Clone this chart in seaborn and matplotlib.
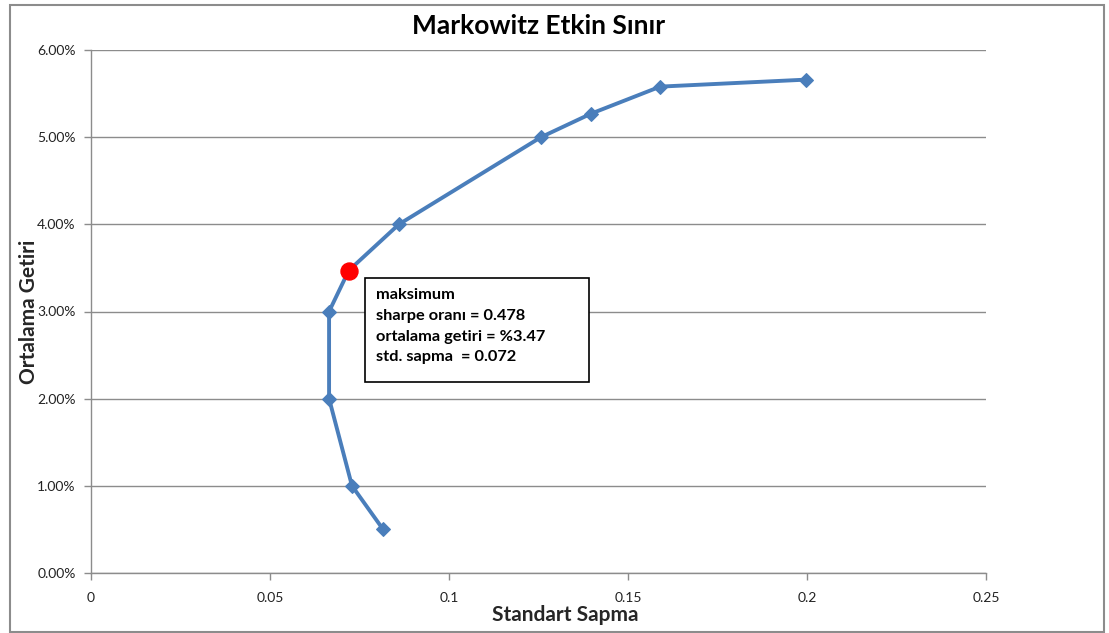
import matplotlib
matplotlib.use("Agg")
import matplotlib.pyplot as plt
import matplotlib.patches as mpatches
from matplotlib.ticker import PercentFormatter, FixedLocator
import seaborn as sns
import pandas as pd

# Efficient frontier portfolios (standard deviation, mean return)
std_dev = [0.0816, 0.0729, 0.0665, 0.0665, 0.072, 0.0860, 0.1257, 0.1397, 0.1590, 0.1997]
mean_ret = [0.0050, 0.0100, 0.0200, 0.0300, 0.0347, 0.0400, 0.0500, 0.0527, 0.0558, 0.0566]

# Maximum Sharpe ratio portfolio
max_sharpe = 0.478
max_ret = 0.0347
max_std = 0.072

x_ticks = [0, 0.05, 0.1, 0.15, 0.2, 0.25]
x_tick_labels = ["0", "0.05", "0.1", "0.15", "0.2", "0.25"]
y_ticks = [0.0, 0.01, 0.02, 0.03, 0.04, 0.05, 0.06]

sns.set_theme(style="white")
plt.rcParams["font.family"] = ["Lato", "DejaVu Sans"]

W, H = 1109, 633
fig = plt.figure(figsize=(W / 100, H / 100), dpi=100)
ax = fig.add_axes([91 / W, (H - 573) / H, (986 - 91) / W, (573 - 50) / H])

df = pd.DataFrame({"std": std_dev, "ret": mean_ret})
line_color = "#4A7EBB"
sns.lineplot(data=df, x="std", y="ret", sort=False, estimator=None, ax=ax,
             color=line_color, linewidth=2.8, marker="D", markersize=7.5,
             markeredgecolor=line_color, markerfacecolor=line_color, zorder=3)

pt = pd.DataFrame({"std": [max_std], "ret": [max_ret]})
sns.scatterplot(data=pt, x="std", y="ret", ax=ax, color="red", s=150,
                edgecolor="red", zorder=5)

ax.set_xlim(0, 0.25)
ax.set_ylim(0, 0.06)
ax.xaxis.set_major_locator(FixedLocator(x_ticks))
ax.set_xticklabels(x_tick_labels)
ax.yaxis.set_major_locator(FixedLocator(y_ticks))
ax.yaxis.set_major_formatter(PercentFormatter(1, decimals=2))

grid_color = "#8C8C8C"
ax.grid(axis="y", color=grid_color, linewidth=1.0)
ax.grid(axis="x", visible=False)
for side in ["top", "right"]:
    ax.spines[side].set_visible(False)
for side in ["left", "bottom"]:
    ax.spines[side].set_color(grid_color)
    ax.spines[side].set_linewidth(1.0)
ax.tick_params(axis="both", which="major", direction="out", length=5,
               width=1.0, color=grid_color, labelsize=10, labelcolor="#222222",
               left=True, bottom=True)
ax.tick_params(axis="y", pad=6)
ax.tick_params(axis="x", pad=9)

ax.set_xlabel("Standart Sapma", fontsize=15, fontweight="bold")
ax.xaxis.set_label_coords((565 - 91) / (986 - 91), -0.062)
ax.set_ylabel("Ortalama Getiri", fontsize=15, fontweight="bold")
ax.yaxis.set_label_coords(-0.058, 0.5)

fig.text(539 / W, 1 - 26 / H, "Markowitz Etkin Sınır", ha="center", va="center",
         fontsize=19, fontweight="bold", color="black")

info = ("maksimum\n"
        f"sharpe oranı = {max_sharpe:.3f}\n"
        f"ortalama getiri = %{max_ret * 100:.2f}\n"
        f"std. sapma  = {max_std:.3f}")
box = mpatches.Rectangle((365 / W, 1 - 382 / H), (589 - 365) / W, (382 - 278) / H,
                         transform=fig.transFigure, facecolor="white",
                         edgecolor="black", linewidth=1.2, zorder=6)
fig.patches.append(box)
fig.text(376 / W, 1 - 288 / H, info, ha="left", va="top", fontsize=11.8,
         fontweight="bold", linespacing=1.62, color="black", zorder=7)

# Outer chart frame
frame = mpatches.Rectangle((9.5 / W, 1.5 / H), (1104 - 9.5) / W, (630 - 3.5) / H,
                           transform=fig.transFigure, facecolor="none",
                           edgecolor="#8C8C8C", linewidth=1.5)
fig.patches.append(frame)

fig.savefig("out.png", dpi=100)
